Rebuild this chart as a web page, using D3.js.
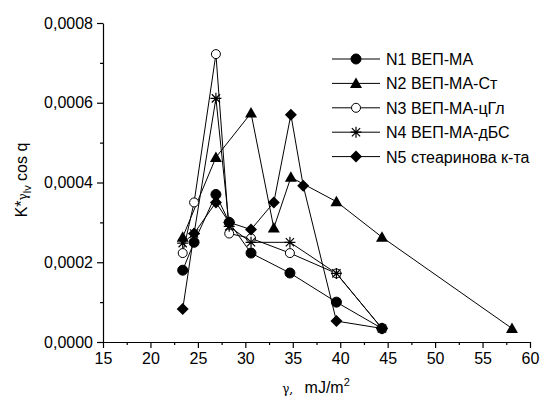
<!DOCTYPE html>
<html>
<head>
<meta charset="utf-8">
<script src="https://cdn.jsdelivr.net/npm/d3@7"></script>
<style>
  body { margin: 0; background: #fff; }
  text { font-family: 'Liberation Sans', Arial, sans-serif; }
</style>
</head>
<body>
<svg id="chart"></svg>
<script>
// series data (gamma, mJ/m2  ->  K*gamma_lv cos q)
const n1X = [23.4, 24.6, 26.9, 28.3, 30.6, 34.7, 39.6, 44.4]
const n1Y = [0.00018, 0.00025, 0.00037, 0.0003, 0.000223, 0.000173, 0.0001, 0.000034]

const n2X = [23.4, 26.9, 30.6, 33.0, 34.8, 39.6, 44.4, 58.1]
const n2Y = [0.000263, 0.000463, 0.000574, 0.000286, 0.000413, 0.000352, 0.000263, 0.000034]

const n3X = [23.4, 24.6, 26.9, 28.3, 30.6, 34.7, 39.6, 44.4]
const n3Y = [0.000223, 0.00035, 0.000722, 0.000272, 0.00026, 0.000223, 0.000172, 0.000034]

const n4X = [23.4, 24.6, 26.9, 28.3, 30.6, 34.7, 39.6, 44.4]
const n4Y = [0.000248, 0.000272, 0.000611, 0.00029, 0.00025, 0.00025, 0.000172, 0.000034]

const n5X = [23.4, 24.6, 26.9, 28.3, 30.6, 33.0, 34.8, 36.1, 39.6, 44.4]
const n5Y = [0.0000825, 0.000272, 0.00035, 0.0003, 0.000282, 0.00035, 0.00057, 0.000392, 0.0000525, 0.000034]

const seriesNames = ['N1 ВЕП-МА', 'N2 ВЕП-МА-Ст', 'N3 ВЕП-МА-цГл', 'N4 ВЕП-МА-дБС', 'N5 стеаринова к-та']
const seriesMarkers = ['circle', 'triangle', 'openCircle', 'star', 'diamond']

const xTicks = [15, 20, 25, 30, 35, 40, 45, 50, 55, 60]
const yTicks = [0, 0.0002, 0.0004, 0.0006, 0.0008]

const W = 555, H = 397
const margin = { top: 23, right: 25, bottom: 55, left: 103 }
const width = W - margin.left - margin.right
const height = H - margin.top - margin.bottom

const svg = d3.select('#chart').attr('width', W).attr('height', H)
const g = svg.append('g').attr('transform', `translate(${margin.left},${margin.top})`)

const x = d3.scaleLinear().domain([15, 60]).range([0, width])
const y = d3.scaleLinear().domain([0, 0.0008]).range([height, 0])

const fmtY = (d) => d3.format('.4f')(d).replace('.', ',')

// minor ticks first
g.append('g')
  .attr('transform', `translate(0,${height})`)
  .call(d3.axisBottom(x).tickValues(d3.range(17.5, 60, 5)).tickSize(3).tickFormat(''))
  .call((a) => a.select('.domain').remove())
g.append('g')
  .call(d3.axisLeft(y).tickValues([0.0001, 0.0003, 0.0005, 0.0007]).tickSize(3).tickFormat(''))
  .call((a) => a.select('.domain').remove())

// x-axis
g.append('g')
  .attr('transform', `translate(0,${height})`)
  .call(d3.axisBottom(x).tickValues(xTicks).tickSize(6).tickSizeOuter(0).tickPadding(5))
  .call((a) => a.selectAll('text').style('font-size', '16px').attr('fill', '#000'))

// y-axis
g.append('g')
  .call(d3.axisLeft(y).tickValues(yTicks).tickFormat(fmtY).tickSize(6).tickSizeOuter(0).tickPadding(4))
  .call((a) => a.selectAll('text').style('font-size', '16px').attr('fill', '#000'))

g.selectAll('.domain, .tick line').attr('stroke', '#000').attr('stroke-width', 1.2)

// axis labels
const xl = svg.append('text')
  .attr('x', 316).attr('y', 393)
  .attr('text-anchor', 'middle')
  .style('font-size', '16px')
xl.append('tspan').style('font-family', 'DejaVu Serif, serif').style('font-size', '12px').text('γ,\u00a0\u00a0 ')
xl.append('tspan').text('mJ/m')
xl.append('tspan').attr('dy', -7).style('font-size', '11px').text('2')

const yl = svg.append('text')
  .attr('transform', 'translate(27,180) rotate(-90)')
  .attr('text-anchor', 'middle')
  .style('font-size', '16px')
yl.append('tspan').text('K*')
yl.append('tspan').style('font-family', 'DejaVu Serif, serif').style('font-size', '12px').text('γ')
yl.append('tspan').attr('dy', 4).style('font-size', '11px').text('lv')
yl.append('tspan').attr('dy', -4).text(' cos q')

// markers
const drawMarker = (sel, type, cx, cy) => {
  const s = 5.5
  if (type === 'circle' || type === 'openCircle') {
    sel.append('circle').attr('cx', cx).attr('cy', cy).attr('r', type === 'circle' ? 5 : 4.5)
      .attr('fill', type === 'circle' ? '#000' : '#fff').attr('stroke', '#000').attr('stroke-width', 1)
  } else if (type === 'triangle') {
    sel.append('path').attr('d', `M${cx},${cy - 6}L${cx + 6},${cy + 4.5}L${cx - 6},${cy + 4.5}Z`).attr('fill', '#000')
  } else if (type === 'diamond') {
    sel.append('path').attr('d', `M${cx},${cy - 6}L${cx + 6},${cy}L${cx},${cy + 6}L${cx - 6},${cy}Z`).attr('fill', '#000')
  } else if (type === 'star') {
    const d = s * 0.75
    sel.append('path')
      .attr('d', `M${cx},${cy - s}V${cy + s}M${cx - s},${cy}H${cx + s}M${cx - d},${cy - d}L${cx + d},${cy + d}M${cx - d},${cy + d}L${cx + d},${cy - d}`)
      .attr('stroke', '#000').attr('stroke-width', 1.2).attr('fill', 'none')
  }
}

const allX = [n1X, n2X, n3X, n4X, n5X]
const allY = [n1Y, n2Y, n3Y, n4Y, n5Y]

const line = d3.line().x((d) => x(d[0])).y((d) => y(d[1]))

allX.forEach((xs, i) => {
  const pts = xs.map((v, j) => [v, allY[i][j]])
  g.append('path').datum(pts)
    .attr('fill', 'none').attr('stroke', '#000').attr('stroke-width', 1)
    .attr('d', line)
})
allX.forEach((xs, i) => {
  const mg = g.append('g')
  xs.forEach((v, j) => drawMarker(mg, seriesMarkers[i], x(v), y(allY[i][j])))
})

// legend
const leg = svg.append('g')
seriesNames.forEach((name, i) => {
  const ly = 59 + i * 24.4
  leg.append('line').attr('x1', 332).attr('x2', 380).attr('y1', ly).attr('y2', ly)
    .attr('stroke', '#000').attr('stroke-width', 1)
  drawMarker(leg, seriesMarkers[i], 356, ly)
  leg.append('text').attr('x', 386).attr('y', ly + 6).style('font-size', '16px').text(name)
})
</script>
</body>
</html>
